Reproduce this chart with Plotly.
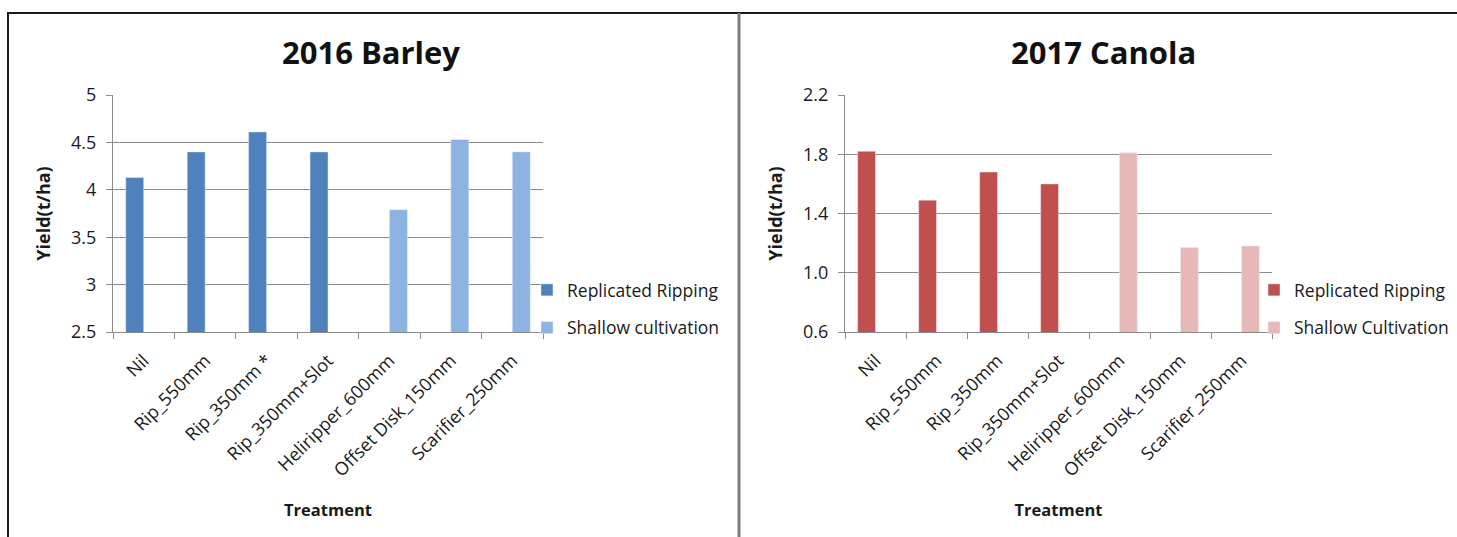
import plotly.graph_objects as go
from plotly.subplots import make_subplots

# Treatment categories (x axis)
treatments_2016 = ["Nil", "Rip_550mm", "Rip_350mm *", "Rip_350mm+Slot",
                   "Heliripper_600mm", "Offset Disk_150mm", "Scarifier_250mm"]
treatments_2017 = ["Nil", "Rip_550mm", "Rip_350mm", "Rip_350mm+Slot",
                   "Heliripper_600mm", "Offset Disk_150mm", "Scarifier_250mm"]

# 2016 Barley yields (t/ha)
barley_ripping = [4.13, 4.40, 4.61, 4.40, None, None, None]
barley_shallow = [None, None, None, None, 3.79, 4.53, 4.40]

# 2017 Canola yields (t/ha)
canola_ripping = [1.82, 1.49, 1.68, 1.60, None, None, None]
canola_shallow = [None, None, None, None, 1.81, 1.17, 1.18]

# Y axis ticks
barley_ticks = [2.5, 3, 3.5, 4, 4.5, 5]
barley_ticktext = ["2.5", "3", "3.5", "4", "4.5", "5"]
canola_ticks = [0.6, 1.0, 1.4, 1.8, 2.2]
canola_ticktext = ["0.6", "1.0", "1.4", "1.8", "2.2"]

W, H = 1457, 537
FONT = "Open Sans"
GRID = "#8c8c8c"
TXT = "#1a1a1a"


def px_x(v):
    return v / W


def px_y(v):
    return 1 - v / H


fig = make_subplots(rows=1, cols=2)

fig.add_trace(go.Bar(x=treatments_2016, y=barley_ripping, name="Replicated Ripping",
                     marker_color="#4F81BD", legend="legend", legendgroup="a"), 1, 1)
fig.add_trace(go.Bar(x=treatments_2016, y=barley_shallow, name="Shallow cultivation",
                     marker_color="#8DB3E2", legend="legend", legendgroup="b"), 1, 1)
fig.add_trace(go.Bar(x=treatments_2017, y=canola_ripping, name="Replicated Ripping",
                     marker_color="#C0504D", legend="legend2", legendgroup="c"), 1, 2)
fig.add_trace(go.Bar(x=treatments_2017, y=canola_shallow, name="Shallow Cultivation",
                     marker_color="#E6B9B8", legend="legend2", legendgroup="d"), 1, 2)

y_dom = [px_y(332), px_y(95)]

xaxis_common = dict(
    showline=True, linecolor=GRID, linewidth=1,
    ticks="outside", tickson="boundaries", ticklen=6, tickcolor=GRID,
    tickangle=-45, tickfont=dict(family=FONT, size=18, color=TXT),
    ticklabelstandoff=10,
    showgrid=False, automargin=False,
    title=dict(text="<b>Treatment</b>", font=dict(family=FONT, size=16.5, color=TXT),
               standoff=24),
)
yaxis_common = dict(
    showline=True, linecolor=GRID, linewidth=1,
    ticks="outside", ticklen=6, tickcolor=GRID,
    showgrid=True, gridcolor=GRID, gridwidth=1,
    tickfont=dict(family=FONT, size=18, color=TXT),
    ticklabelstandoff=6,
    zeroline=False, automargin=False,
    title=dict(text="<b>Yield(t/ha)</b>", font=dict(family=FONT, size=18, color=TXT),
               standoff=15),
)

fig.update_xaxes(domain=[px_x(113), px_x(543)], row=1, col=1, **xaxis_common)
fig.update_xaxes(domain=[px_x(845), px_x(1272)], row=1, col=2, **xaxis_common)
fig.update_yaxes(domain=y_dom, range=[2.5, 5], tickvals=barley_ticks,
                 ticktext=barley_ticktext, row=1, col=1, **yaxis_common)
fig.update_yaxes(domain=y_dom, range=[0.6, 2.2], tickvals=canola_ticks,
                 ticktext=canola_ticktext, row=1, col=2, **yaxis_common)

legend_common = dict(
    font=dict(family=FONT, size=17.5, color=TXT),
    traceorder="grouped", tracegroupgap=12,
    bgcolor="rgba(0,0,0,0)", xanchor="left", yanchor="middle",
)

fig.update_layout(
    width=W, height=H,
    margin=dict(l=0, r=0, t=0, b=0),
    paper_bgcolor="white", plot_bgcolor="white",
    barmode="group", bargap=0.415, bargroupgap=0,
    font=dict(family=FONT),
    legend=dict(x=px_x(527), y=px_y(309), **legend_common),
    legend2=dict(x=px_x(1254), y=px_y(309), **legend_common),
    annotations=[
        dict(text="<b>2016 Barley</b>", x=px_x(371), y=px_y(52), xref="paper", yref="paper",
             showarrow=False, font=dict(family=FONT, size=31, color="#111111"),
             xanchor="center", yanchor="middle"),
        dict(text="<b>2017 Canola</b>", x=px_x(1103), y=px_y(52), xref="paper", yref="paper",
             showarrow=False, font=dict(family=FONT, size=31, color="#111111"),
             xanchor="center", yanchor="middle"),
    ],
    shapes=[
        # panel frames
        dict(type="line", xref="paper", yref="paper", x0=px_x(7), x1=1, y0=px_y(13), y1=px_y(13),
             line=dict(color=TXT, width=2)),
        dict(type="line", xref="paper", yref="paper", x0=px_x(8), x1=px_x(8), y0=0, y1=px_y(13),
             line=dict(color=TXT, width=2)),
        dict(type="line", xref="paper", yref="paper", x0=px_x(739), x1=px_x(739), y0=0, y1=px_y(13),
             line=dict(color="#7f7f7f", width=3)),
    ],
)

fig.write_html("out.html")
